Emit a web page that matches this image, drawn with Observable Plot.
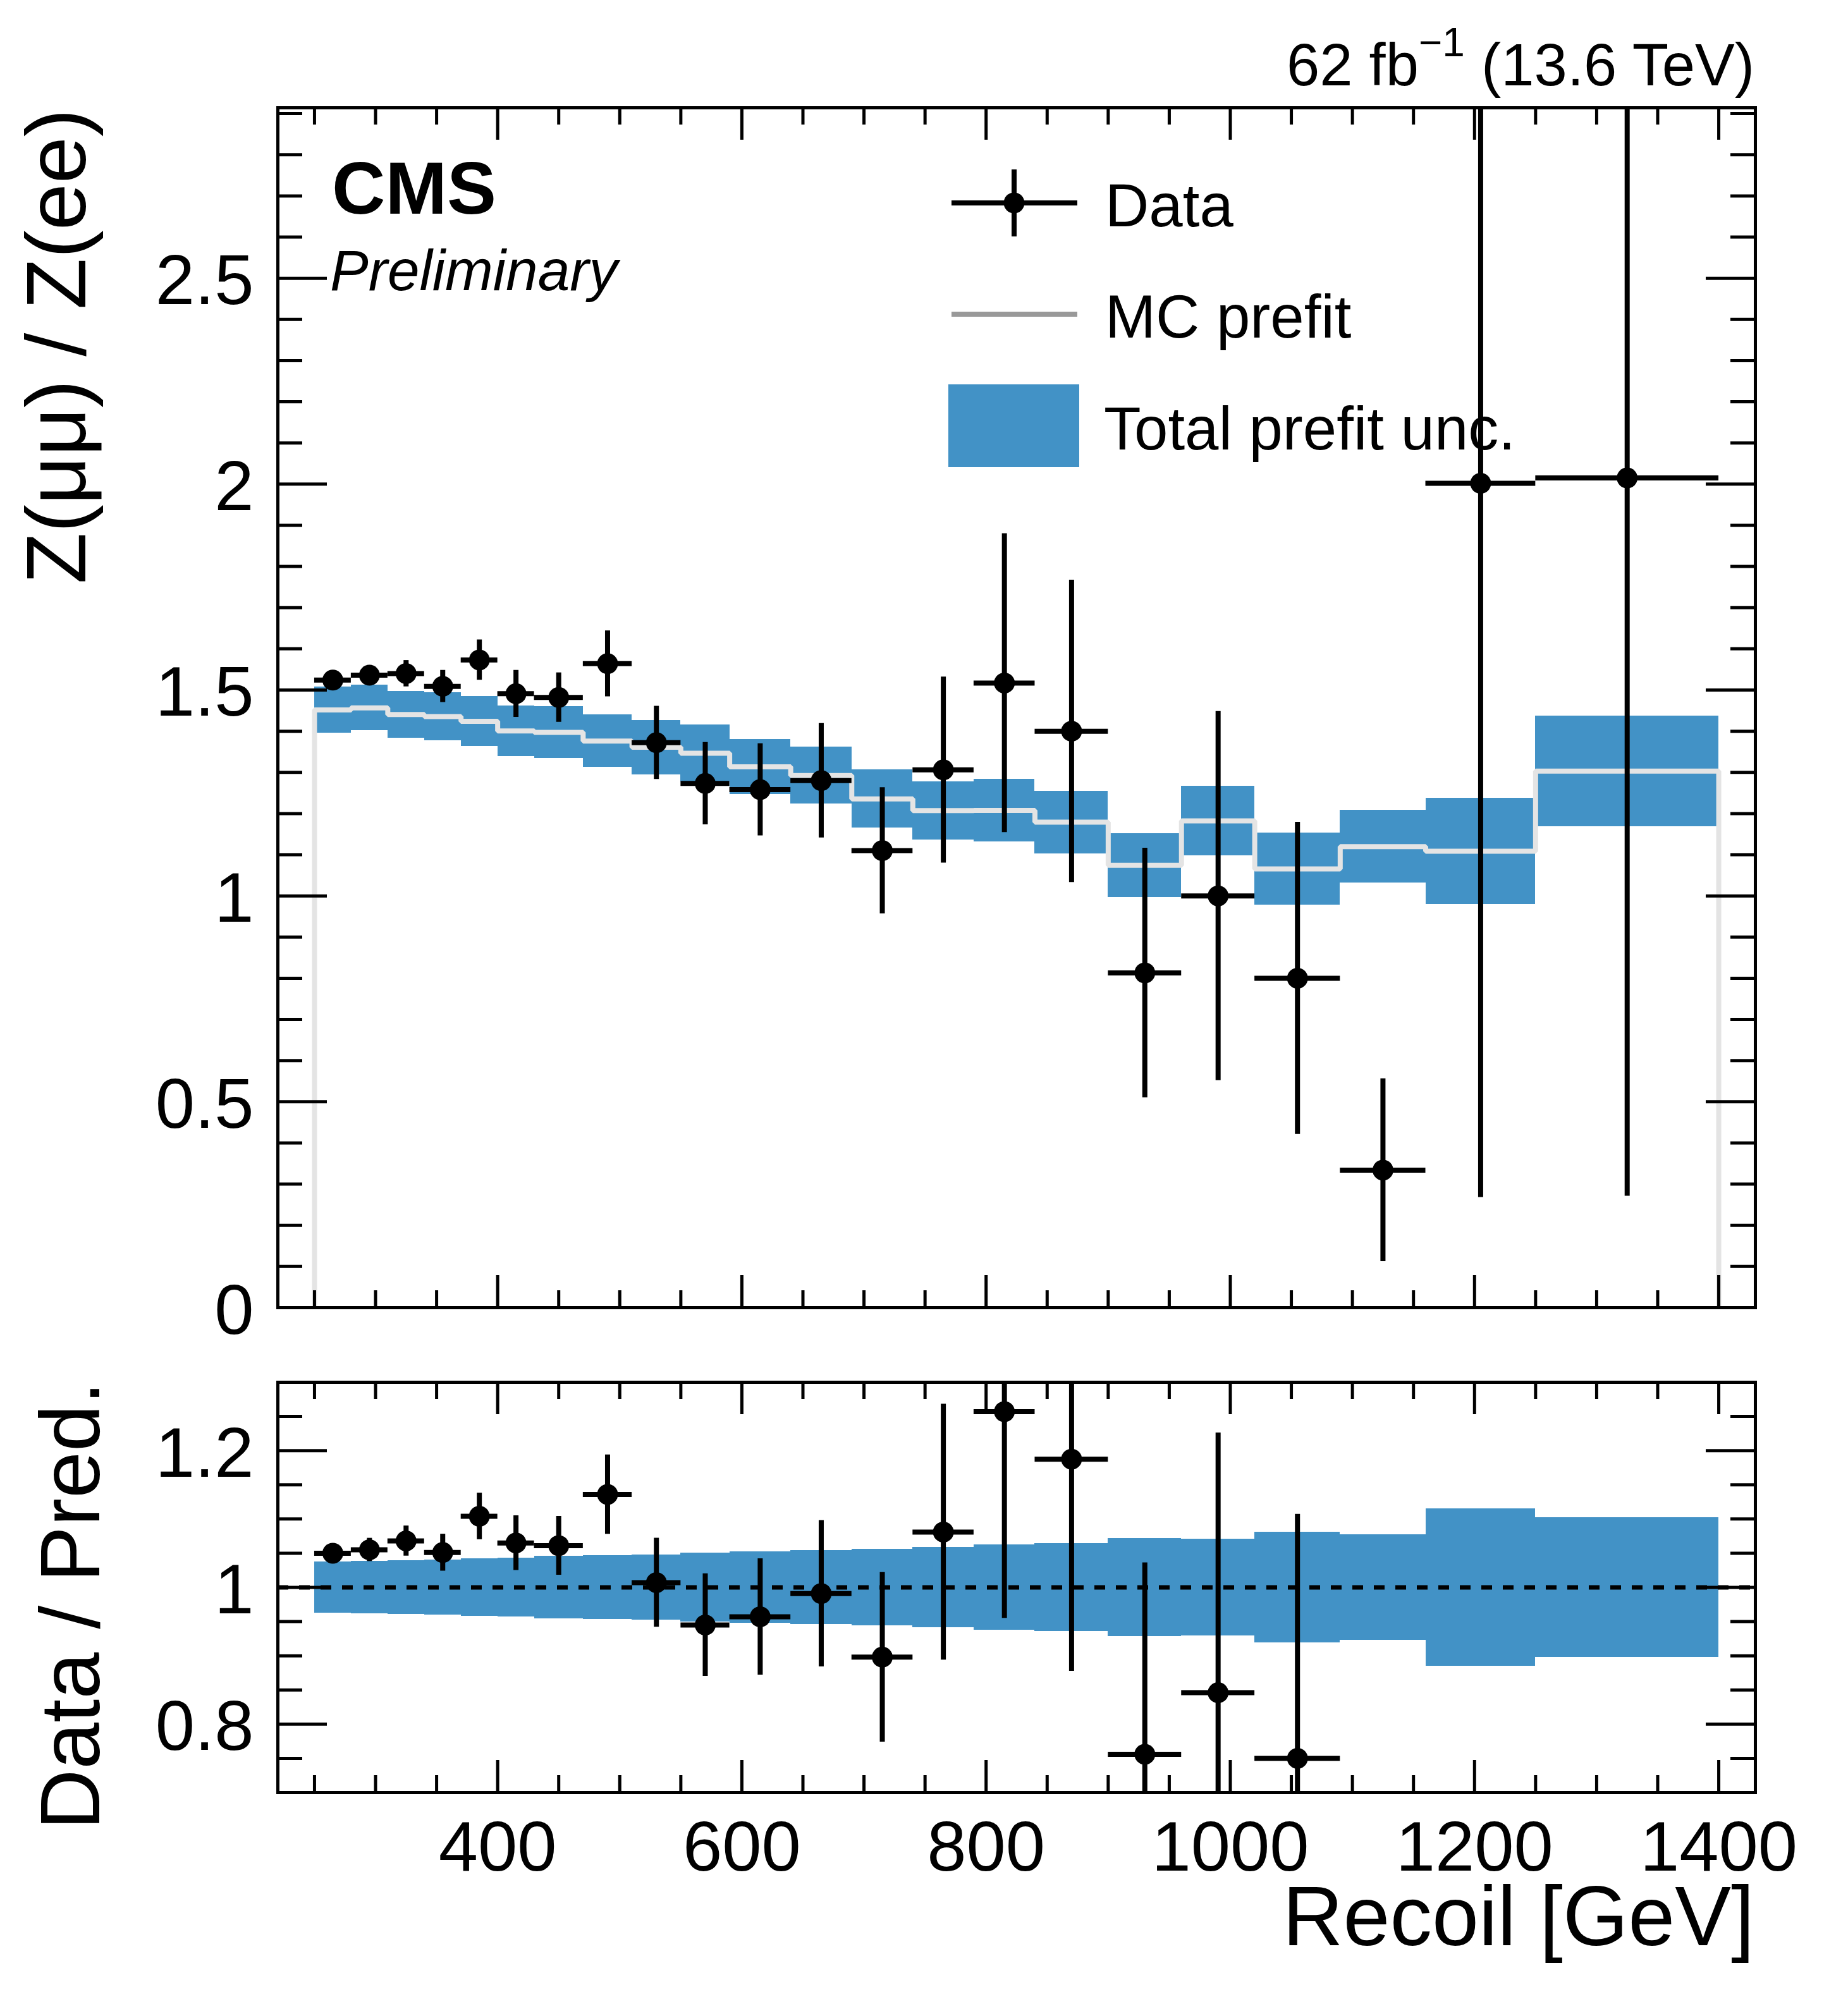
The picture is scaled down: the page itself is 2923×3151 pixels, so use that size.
<!DOCTYPE html>
<html><head><meta charset="utf-8">
<script src="https://cdn.jsdelivr.net/npm/d3@7"></script>
<script src="https://cdn.jsdelivr.net/npm/@observablehq/plot@0.6"></script>
<style>
html,body{margin:0;padding:0;background:#fff;}
#wrap{position:relative;width:2923px;height:3151px;background:#fff;overflow:hidden;font-family:"Liberation Sans",Arial,Helvetica,sans-serif;}
#wrap > svg{position:absolute;left:0;}
</style></head><body><div id="wrap"></div>
<script>
// ---------------- data ----------------
const binEdges = [250,280,310,340,370,400,430,470,510,550,590,640,690,740,790,840,900,960,1020,1090,1160,1250,1400];
// Z(mumu)/Z(ee) data points and stat. errors
const dataValue = [1.524,1.536,1.540,1.509,1.573,1.491,1.482,1.564,1.372,1.273,1.258,1.280,1.110,1.306,1.517,1.400,0.813,1.000,0.800,0.334,2.002,2.015];
const dataError = [0.020,0.024,0.032,0.039,0.049,0.057,0.060,0.080,0.089,0.100,0.112,0.139,0.153,0.226,0.363,0.367,0.303,0.448,0.379,0.222,1.734,1.744];
// MC prefit and total prefit uncertainty (half width)
const mcPrefit = [1.4515,1.4565,1.4405,1.4355,1.424,1.4005,1.397,1.376,1.361,1.3465,1.3135,1.2925,1.2355,1.207,1.2075,1.179,1.0745,1.182,1.0655,1.1195,1.1085,1.303];
const mcUnc = [0.0555,0.0555,0.0565,0.0585,0.060,0.0615,0.063,0.064,0.066,0.0685,0.0675,0.0695,0.0705,0.071,0.0755,0.076,0.0775,0.084,0.0875,0.0885,0.1285,0.134];
// Ratio panel: Data / Pred. (bins without a drawn point are null)
const ratioValue = [1.050,1.055,1.068,1.051,1.104,1.065,1.061,1.136,1.007,0.945,0.957,0.991,0.898,1.081,1.257,1.1875,0.756,0.846,0.750,null,null,null];
const ratioError = [0.013,0.017,0.022,0.027,0.034,0.040,0.043,0.058,0.065,0.075,0.085,0.107,0.124,0.187,0.302,0.310,0.280,0.380,0.357,null,null,null];
const ratioUnc = [0.0375,0.038,0.039,0.0405,0.042,0.043,0.0455,0.047,0.048,0.050,0.052,0.054,0.056,0.0585,0.0625,0.064,0.0715,0.071,0.081,0.077,0.115,0.102];

// ticks
const xMajorTicks = [400,600,800,1000,1200,1400];
const xMinorTicks = [250,300,350,450,500,550,650,700,750,850,900,950,1050,1100,1150,1250,1300,1350];
const yTopMajorTicks = [0,0.5,1,1.5,2,2.5];
const yTopMinorTicks = [0.1,0.2,0.3,0.4,0.6,0.7,0.8,0.9,1.1,1.2,1.3,1.4,1.6,1.7,1.8,1.9,2.1,2.2,2.3,2.4,2.6,2.7,2.8,2.9];
const yBotMajorTicks = [0.8,1,1.2];
const yBotMinorTicks = [0.75,0.85,0.9,0.95,1.05,1.1,1.15,1.25];

// ---------------- derived tables ----------------
const bins = binEdges.slice(0, -1).map((lo, i) => ({
  lo, hi: binEdges[i + 1], c: (lo + binEdges[i + 1]) / 2,
  v: dataValue[i], e: dataError[i], mc: mcPrefit[i], u: mcUnc[i],
  r: ratioValue[i], re: ratioError[i], ru: ratioUnc[i]
}));
const ratioBins = bins.filter(d => d.r != null);
const nb = mcPrefit.length;
const stepPts = [{x: binEdges[0], y: 0}]
  .concat(mcPrefit.map((v, i) => ({x: binEdges[i], y: v})))
  .concat([{x: binEdges[nb], y: mcPrefit[nb - 1]}, {x: binEdges[nb], y: 0}]);

// ---------------- layout ----------------
const FONT = '"Liberation Sans", Arial, Helvetica, sans-serif';
const W = 2923, ML = 439, MR = 147;
const plotW = W - ML - MR;
const TOP_H = 2120, TOP_MT = 170, TOP_MB = 52;
const topInner = TOP_H - TOP_MT - TOP_MB;
const BOT_Y = 2120, BOT_H = 1031, BOT_MT = 66, BOT_MB = 316;
const botInner = BOT_H - BOT_MT - BOT_MB;
const YMAJ = 78, YMIN = 39, XMAJ = 51, XMIN = 27, TW = 5;
const BAND = "#4292c6", MCLINE = "#e4e4e4";
const TICKFS = 112;

function frameTicks(yMaj, yMin, innerH) {
  const s = {stroke: "black", strokeWidth: TW};
  return [
    Plot.tickY(yMaj, {y: d => d, insetRight: plotW - YMAJ, ...s}),
    Plot.tickY(yMaj, {y: d => d, insetLeft: plotW - YMAJ, ...s}),
    Plot.tickY(yMin, {y: d => d, insetRight: plotW - YMIN, ...s}),
    Plot.tickY(yMin, {y: d => d, insetLeft: plotW - YMIN, ...s}),
    Plot.tickX(xMajorTicks, {x: d => d, insetBottom: innerH - XMAJ, ...s}),
    Plot.tickX(xMajorTicks, {x: d => d, insetTop: innerH - XMAJ, ...s}),
    Plot.tickX(xMinorTicks, {x: d => d, insetBottom: innerH - XMIN, ...s}),
    Plot.tickX(xMinorTicks, {x: d => d, insetTop: innerH - XMIN, ...s})
  ];
}
function yLabels(ticks) {
  return Plot.text(ticks, {y: d => d, text: d => String(d), frameAnchor: "left", dx: -38, dy: 41,
    textAnchor: "end", lineAnchor: "bottom", fontSize: TICKFS, fill: "black"});
}
function dataMarks(data, val, err) {
  return [
    Plot.ruleX(data, {x: "c", y1: d => d[val] - d[err], y2: d => d[val] + d[err], stroke: "black", strokeWidth: 8, clip: true}),
    Plot.ruleY(data, {y: val, x1: "lo", x2: "hi", stroke: "black", strokeWidth: 8, clip: true}),
    Plot.dot(data, {x: "c", y: val, r: 16.5, fill: "black", stroke: "none", clip: true})
  ];
}

const topPlot = Plot.plot({
  width: W, height: TOP_H,
  marginLeft: ML, marginRight: MR, marginTop: TOP_MT, marginBottom: TOP_MB,
  x: {domain: [220, 1430], axis: null},
  y: {domain: [0, 2.914], axis: null},
  style: {fontFamily: FONT, background: "transparent", overflow: "visible"},
  marks: [
    Plot.rect(bins, {x1: "lo", x2: "hi", y1: d => d.mc - d.u, y2: d => d.mc + d.u, fill: BAND, shapeRendering: "crispEdges", clip: true}),
    Plot.line(stepPts, {x: "x", y: "y", curve: "step-after", stroke: MCLINE, strokeWidth: 8, strokeLinejoin: "miter", strokeLinecap: "butt", clip: true}),
    ...dataMarks(bins, "v", "e"),
    ...frameTicks(yTopMajorTicks, yTopMinorTicks, topInner),
    yLabels(yTopMajorTicks),
    Plot.frame({stroke: "black", strokeWidth: TW})
  ]
});
topPlot.style.top = "0px";

const botPlot = Plot.plot({
  width: W, height: BOT_H,
  marginLeft: ML, marginRight: MR, marginTop: BOT_MT, marginBottom: BOT_MB,
  x: {domain: [220, 1430], axis: null},
  y: {domain: [0.7, 1.3], axis: null},
  style: {fontFamily: FONT, background: "transparent", overflow: "visible"},
  marks: [
    Plot.rect(bins, {x1: "lo", x2: "hi", y1: d => 1 - d.ru, y2: d => 1 + d.ru, fill: BAND, shapeRendering: "crispEdges", clip: true}),
    Plot.ruleY([1], {stroke: "black", strokeWidth: 7, strokeDasharray: "17,17"}),
    ...dataMarks(ratioBins, "r", "re"),
    ...frameTicks(yBotMajorTicks, yBotMinorTicks, botInner),
    yLabels(yBotMajorTicks),
    Plot.text(xMajorTicks, {x: d => d, text: d => String(d), frameAnchor: "bottom", dy: 123,
      lineAnchor: "bottom", textAnchor: "middle", fontSize: TICKFS, fill: "black"}),
    Plot.frame({stroke: "black", strokeWidth: TW})
  ]
});
botPlot.style.top = BOT_Y + "px";

const wrap = document.getElementById("wrap");
wrap.appendChild(topPlot);
wrap.appendChild(botPlot);

// ---------------- annotations & legend ----------------
const overlay = `
<svg xmlns="http://www.w3.org/2000/svg" width="2923" height="3151" style="top:0;pointer-events:none" font-family='${FONT}' fill="black">
  <text x="2775" y="135" font-size="94" text-anchor="end" style="white-space:pre">62 fb<tspan dy="-46" font-size="64">−1</tspan><tspan dy="46"> (13.6 TeV)</tspan></text>
  <text x="525" y="338" font-size="117" font-weight="bold">CMS</text>
  <text x="522" y="459" font-size="91" font-style="italic">Preliminary</text>
  <g>
    <line x1="1505" x2="1704" y1="321" y2="321" stroke="black" stroke-width="8"/>
    <line x1="1604" x2="1604" y1="268" y2="374" stroke="black" stroke-width="8"/>
    <circle cx="1604" cy="321" r="16.5" fill="black"/>
    <text x="1748" y="358" font-size="96">Data</text>
    <line x1="1505" x2="1704" y1="497" y2="497" stroke="#999999" stroke-width="8"/>
    <text x="1748" y="534" font-size="96">MC prefit</text>
    <rect x="1500" y="608" width="207" height="131" fill="${BAND}"/>
    <text x="1746" y="711" font-size="96">Total prefit unc.</text>
  </g>
  <text x="2775" y="3077" font-size="133" text-anchor="end">Recoil [GeV]</text>
  <text transform="translate(135,172) rotate(-90)" font-size="133" text-anchor="end" style="white-space:pre">Z(μμ) / Z(ee)</text>
  <text transform="translate(157,2185) rotate(-90)" font-size="133" text-anchor="end" style="white-space:pre">Data / Pred.</text>
</svg>`;
wrap.insertAdjacentHTML("beforeend", overlay);
</script>
</body></html>
